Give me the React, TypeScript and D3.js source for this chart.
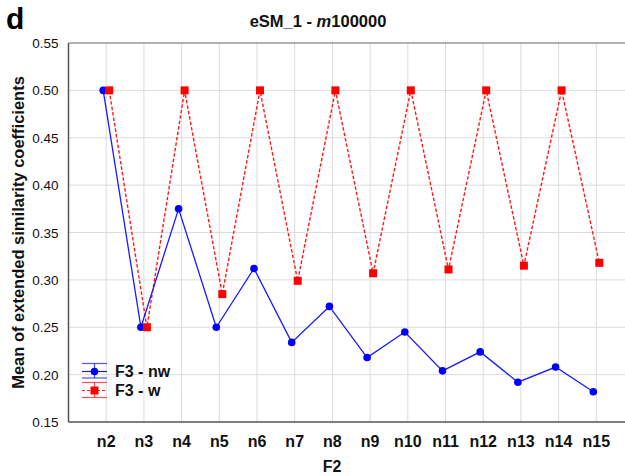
import React, { useEffect, useRef } from "react";
import * as d3 from "d3";

const categories = ["n2", "n3", "n4", "n5", "n6", "n7", "n8", "n9", "n10", "n11", "n12", "n13", "n14", "n15"];
const nwValues = [0.5, 0.25, 0.375, 0.25, 0.312, 0.234, 0.272, 0.218, 0.245, 0.204, 0.224, 0.192, 0.208, 0.182];
const wValues = [0.5, 0.25, 0.5, 0.285, 0.5, 0.299, 0.5, 0.307, 0.5, 0.311, 0.5, 0.315, 0.5, 0.318];
const yTicks = [0.15, 0.2, 0.25, 0.3, 0.35, 0.4, 0.45, 0.5, 0.55];

export default function App() {
  const ref = useRef<SVGSVGElement>(null);

  useEffect(() => {
    const svg = d3.select(ref.current);
    svg.selectAll("*").remove();

    const left = 68.5;
    const top = 43;
    const bottom = 422;
    const step = 37.7;
    const font = "Arial, 'Liberation Sans', sans-serif";

    // category index 0..13, left edge sits one step before n2
    const x = d3.scaleLinear().domain([-1, 14]).range([left, left + 15 * step]);
    const y = d3.scaleLinear().domain([0.15, 0.55]).range([bottom, top]);

    const g = svg.append("g");

    // grid
    g.selectAll("line.vg")
      .data(categories)
      .join("line")
      .attr("x1", (_, i) => x(i))
      .attr("x2", (_, i) => x(i))
      .attr("y1", top)
      .attr("y2", bottom)
      .attr("stroke", "#dcdcdc")
      .attr("stroke-width", 1);
    g.selectAll("line.hg")
      .data(yTicks.slice(1, -1))
      .join("line")
      .attr("x1", left)
      .attr("x2", 640)
      .attr("y1", (d) => y(d))
      .attr("y2", (d) => y(d))
      .attr("stroke", "#dcdcdc")
      .attr("stroke-width", 1);

    // frame
    g.append("line").attr("x1", left).attr("x2", 640).attr("y1", top).attr("y2", top).attr("stroke", "#666").attr("stroke-width", 1.2);
    g.append("line").attr("x1", left).attr("x2", 640).attr("y1", bottom).attr("y2", bottom).attr("stroke", "#555").attr("stroke-width", 1.5);
    g.append("line").attr("x1", left).attr("x2", left).attr("y1", top).attr("y2", bottom).attr("stroke", "#555").attr("stroke-width", 1.5);

    // y tick labels
    g.selectAll("text.yt")
      .data(yTicks)
      .join("text")
      .attr("x", left - 10)
      .attr("y", (d) => y(d) + 5)
      .attr("text-anchor", "end")
      .style("font-family", font)
      .style("font-size", "13.5px")
      .attr("fill", "#111")
      .text((d) => d.toFixed(2));

    // x tick labels
    g.selectAll("text.xt")
      .data(categories)
      .join("text")
      .attr("x", (_, i) => x(i))
      .attr("y", 447)
      .attr("text-anchor", "middle")
      .style("font-family", font)
      .style("font-size", "16px")
      .style("font-weight", "bold")
      .attr("fill", "#111")
      .text((d) => d);

    // red w series
    const redLine = d3.line<number>().x((_, i) => x(i) + 3).y((d) => y(d));
    g.append("path")
      .datum(wValues)
      .attr("d", redLine)
      .attr("fill", "none")
      .attr("stroke", "#ff1a1a")
      .attr("stroke-width", 1.4)
      .attr("stroke-dasharray", "3.5,2");

    // blue nw series
    const blueLine = d3.line<number>().x((_, i) => x(i) - 3).y((d) => y(d));
    g.append("path")
      .datum(nwValues)
      .attr("d", blueLine)
      .attr("fill", "none")
      .attr("stroke", "#1a1aff")
      .attr("stroke-width", 1.3);

    g.selectAll("circle.nw")
      .data(nwValues)
      .join("circle")
      .attr("cx", (_, i) => x(i) - 3)
      .attr("cy", (d) => y(d))
      .attr("r", 3.8)
      .attr("fill", "#0000ff");

    g.selectAll("rect.w")
      .data(wValues)
      .join("rect")
      .attr("x", (_, i) => x(i) + 3 - 4)
      .attr("y", (d) => y(d) - 4)
      .attr("width", 8)
      .attr("height", 8)
      .attr("fill", "#ff0000");

    // legend
    const leg = [
      { label: "F3 - nw", color: "#1a1aff", top: 363.5, mid: 371.5, bot: 378, dash: null as string | null, shape: "circle" },
      { label: "F3 - w", color: "#ff1a1a", top: 382.5, mid: 390.5, bot: 397.5, dash: "3,2", shape: "rect" },
    ];
    leg.forEach((l) => {
      const lg = g.append("g");
      lg.append("line").attr("x1", 82).attr("x2", 107).attr("y1", l.top).attr("y2", l.top).attr("stroke", l.color).attr("stroke-width", 1.2).attr("opacity", 0.75);
      lg.append("line").attr("x1", 82).attr("x2", 107).attr("y1", l.bot).attr("y2", l.bot).attr("stroke", l.color).attr("stroke-width", 1.2).attr("opacity", 0.75);
      lg.append("line").attr("x1", 94.5).attr("x2", 94.5).attr("y1", l.top).attr("y2", l.bot).attr("stroke", l.color).attr("stroke-width", 1.2).attr("opacity", 0.75);
      const mid = lg.append("line").attr("x1", 82).attr("x2", 107).attr("y1", l.mid).attr("y2", l.mid).attr("stroke", l.color).attr("stroke-width", 1.2);
      if (l.dash) mid.attr("stroke-dasharray", l.dash);
      if (l.shape === "circle") {
        lg.append("circle").attr("cx", 94.5).attr("cy", l.mid).attr("r", 3.8).attr("fill", "#0000ff");
      } else {
        lg.append("rect").attr("x", 90.5).attr("y", l.mid - 4).attr("width", 8).attr("height", 8).attr("fill", "#ff0000");
      }
      lg.append("text")
        .attr("x", 115)
        .attr("y", l.mid + 5.5)
        .style("font-family", font)
        .style("font-size", "16px")
        .style("font-weight", "bold")
        .attr("fill", "#111")
        .text(l.label);
    });

    // axis titles
    svg.append("text")
      .attr("x", 332)
      .attr("y", 472)
      .attr("text-anchor", "middle")
      .style("font-family", font)
      .style("font-size", "16px")
      .style("font-weight", "bold")
      .attr("fill", "#111")
      .text("F2");

    svg.append("text")
      .attr("transform", `translate(24, ${(top + bottom) / 2}) rotate(-90)`)
      .attr("text-anchor", "middle")
      .style("font-family", font)
      .style("font-size", "16.5px")
      .style("font-weight", "bold")
      .attr("fill", "#111")
      .text("Mean of extended similarity coefficients");

    // title
    const title = svg.append("text")
      .attr("x", 318)
      .attr("y", 27)
      .attr("text-anchor", "middle")
      .style("font-family", font)
      .style("font-size", "16.5px")
      .style("font-weight", "bold")
      .attr("fill", "#111");
    title.append("tspan").text("eSM_1 - ");
    title.append("tspan").style("font-style", "italic").text("m");
    title.append("tspan").text("100000");

    svg.append("text")
      .attr("x", 6)
      .attr("y", 29)
      .style("font-family", font)
      .style("font-size", "30px")
      .style("font-weight", "bold")
      .attr("fill", "#000")
      .text("d");
  }, []);

  return (
    <svg
      ref={ref}
      width={625}
      height={476}
      style={{ position: "absolute", left: 0, top: 0, background: "#fff" }}
    />
  );
}
